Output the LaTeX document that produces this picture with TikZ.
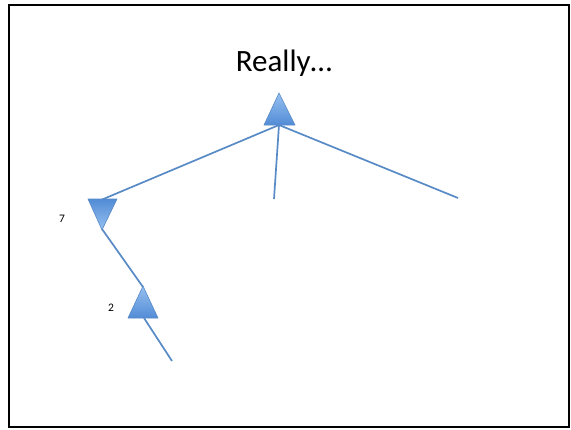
\documentclass[tikz,border=0pt]{standalone}
\usepackage{fontspec}
\setmainfont{Carlito}
\definecolor{edgeblue}{RGB}{88,138,198}
\definecolor{lightblue}{RGB}{150,192,240}
\definecolor{darkblue}{RGB}{82,140,214}
\begin{document}
\begin{tikzpicture}[x=1pt,y=-1pt,
  edge/.style={draw=edgeblue,line width=1.7pt},
  uptri/.style={draw=edgeblue,line width=0.6pt,top color=lightblue,bottom color=darkblue},
  downtri/.style={draw=edgeblue,line width=0.6pt,top color=darkblue,bottom color=lightblue},
  lbl/.style={font=\fontsize{11.5}{13}\selectfont,inner sep=0pt}]
\useasboundingbox (0,0) rectangle (571,429);
\draw[black,line width=2pt] (9,5) rectangle (569,427);
\node (title) at (284,63) {\fontsize{31}{36}\selectfont Really…};
% coordinates
\coordinate (A) at (279,125);
\coordinate (B) at (101,200);
\coordinate (M) at (274,199);
\coordinate (R) at (458,198);
\coordinate (Bb) at (102,229);
\coordinate (C) at (143,287);
\coordinate (Cb) at (144,318);
\coordinate (E) at (172,361);
% edges
\draw[edge] (A) -- (B);
\draw[edge] (A) -- (M);
\draw[edge] (A) -- (R);
\draw[edge] (Bb) -- (C);
\draw[edge] (Cb) -- (E);
% triangles
\path[uptri] (279,93) -- (295,125) -- (264,125) -- cycle;
\path[downtri] (88,199) -- (117,199) -- (102,230) -- cycle;
\path[uptri] (143,286) -- (158,318) -- (128,318) -- cycle;
\node[lbl] (seven) at (62,219) {7};
\node[lbl] (two) at (111,308) {2};
\end{tikzpicture}
\end{document}
